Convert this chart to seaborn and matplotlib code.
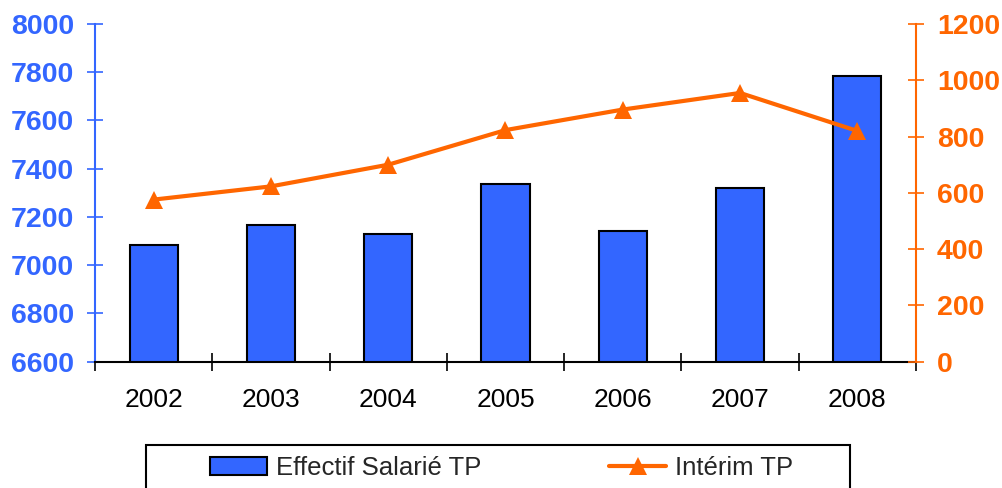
import numpy as np
import seaborn as sns
import matplotlib.pyplot as plt
from matplotlib.patches import Rectangle
from matplotlib.lines import Line2D
from matplotlib.ticker import FixedLocator

# ---------- DATA ----------
years = ["2002", "2003", "2004", "2005", "2006", "2007", "2008"]
effectif = [7085, 7168, 7129, 7338, 7143, 7321, 7784]
interim = [576, 623, 700, 823, 896, 955, 820]

left_ticks = [6600, 6800, 7000, 7200, 7400, 7600, 7800, 8000]
right_ticks = [0, 200, 400, 600, 800, 1000, 1200]

BLUE = "#3366FF"
ORANGE = "#FF6600"

# ---------- STYLE ----------
sns.set_theme(style="white")
plt.rcParams["font.family"] = ["Liberation Sans", "DejaVu Sans"]

fig = plt.figure(figsize=(10.02, 4.88), dpi=100)
ax = fig.add_axes([95 / 1002, 1 - 361.7 / 488, 821 / 1002, 337.7 / 488])

# ---------- BARS ----------
sns.barplot(x=years, y=effectif, ax=ax, color=BLUE, saturation=1,
            width=0.41, edgecolor="black", linewidth=1.5)
ax.set_ylim(6600, 8000)
ax.set_xlim(-0.5, len(years) - 0.5)
ax.set_xlabel("")
ax.set_ylabel("")
ax.set_yticks(left_ticks)
ax.set_yticklabels([str(t) for t in left_ticks], fontsize=20.5,
                   fontweight="bold", color=BLUE)
ax.tick_params(axis="y", direction="inout", length=12, width=1.2,
               color=BLUE, pad=9, left=True)
ax.tick_params(axis="x", which="major", length=0, pad=19, labelsize=19,
               labelcolor="black")
ax.xaxis.set_minor_locator(FixedLocator(np.arange(len(years) + 1) - 0.5))
ax.tick_params(axis="x", which="minor", direction="inout", length=13,
               width=1.2, color="black", bottom=True)

for s in ["top", "right"]:
    ax.spines[s].set_visible(False)
ax.spines["left"].set_color(BLUE)
ax.spines["left"].set_linewidth(1.5)
ax.spines["bottom"].set_color("black")
ax.spines["bottom"].set_linewidth(1.5)

# ---------- LINE ----------
ax2 = ax.twinx()
sns.lineplot(x=np.arange(len(years)), y=interim, ax=ax2, color=ORANGE,
             linewidth=3, marker="^", markersize=13, markeredgewidth=0)
ax2.set_ylim(0, 1200)
ax2.set_xlim(-0.5, len(years) - 0.5)
ax2.set_yticks(right_ticks)
ax2.set_yticklabels([str(t) for t in right_ticks], fontsize=20.5,
                    fontweight="bold", color=ORANGE)
ax2.tick_params(axis="y", direction="inout", length=12, width=1.2,
                color=ORANGE, pad=9, right=True)
for s in ["top", "left", "bottom"]:
    ax2.spines[s].set_visible(False)
ax2.spines["right"].set_color(ORANGE)
ax2.spines["right"].set_linewidth(1.5)
ax2.set_ylabel("")

# ---------- LEGEND ----------
handles = [
    Rectangle((0, 0), 1, 1, facecolor=BLUE, edgecolor="black", linewidth=1.5),
    Line2D([], [], color=ORANGE, linewidth=3, marker="^", markersize=13,
           markeredgewidth=0),
]
fig.legend(handles, ["Effectif Salarié TP", "Intérim TP"], ncol=2,
           loc="center", bbox_to_anchor=((212 + 791) / 2 / 1002, 1 - 468 / 488),
           frameon=False, fontsize=18.5, handlelength=2.2, handleheight=0.75,
           handletextpad=0.35, columnspacing=5.0, borderpad=0)
fig.patches.append(Rectangle((145.5 / 1002, -0.05), (850 - 145.5) / 1002,
                             1.05 - 445 / 488, transform=fig.transFigure,
                             fill=False, edgecolor="black", linewidth=1.5))

fig.savefig("out.png", dpi=100)
